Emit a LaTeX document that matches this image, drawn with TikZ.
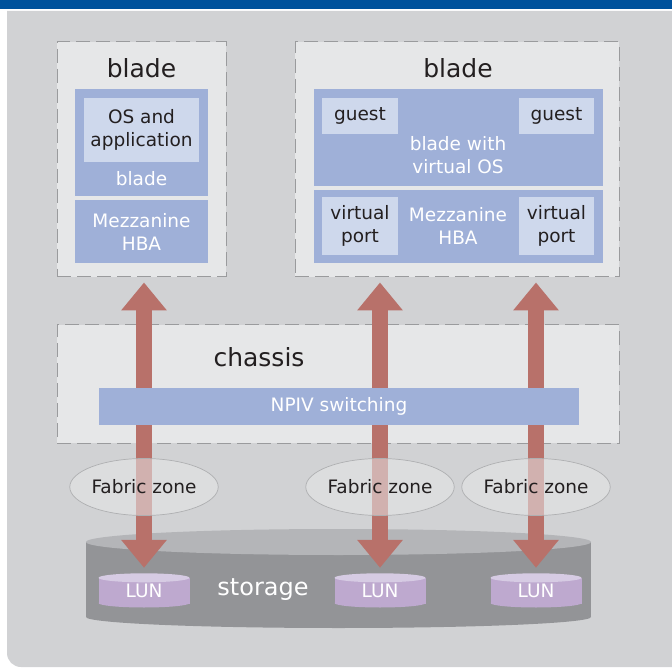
\documentclass[tikz,border=0pt]{standalone}
\usepackage{fontspec}
\setmainfont{DejaVu Sans}
\usetikzlibrary{arrows.meta, positioning, shapes.geometric}
\definecolor{barblue}{HTML}{00529C}
\definecolor{panelgray}{HTML}{D1D2D4}
\definecolor{boxgray}{HTML}{E6E7E8}
\definecolor{dashgray}{HTML}{9A9B9D}
\definecolor{midblue}{HTML}{9FB0D8}
\definecolor{paleblue}{HTML}{CED8EC}
\definecolor{inkdark}{HTML}{231F20}
\definecolor{arrowred}{HTML}{B8716A}
\definecolor{storeside}{HTML}{939497}
\definecolor{storetop}{HTML}{B4B5B8}
\definecolor{lunside}{HTML}{BEA9CF}
\definecolor{luntop}{HTML}{D6CBE3}

\begin{document}
\begin{tikzpicture}[x=1pt, y=-1pt]
\tikzstyle{dashbox} = [rectangle, inner sep=0pt, fill=boxgray, draw=dashgray, line width=1pt, dash pattern=on 14pt off 6pt]
\tikzstyle{bluebox} = [rectangle, inner sep=0pt, fill=midblue, text=white, align=center, font=\fontsize{18.5}{23}\selectfont]
\tikzstyle{palebox} = [rectangle, inner sep=0pt, fill=paleblue, text=inkdark, align=center, font=\fontsize{18.5}{23}\selectfont]
\tikzstyle{whitetext} = [text=white, align=center, font=\fontsize{18.5}{23}\selectfont]
\tikzstyle{titletext} = [text=inkdark, font=\fontsize{25}{28}\selectfont]
\tikzstyle{zone} = [ellipse, minimum width=141pt, minimum height=57pt, inner sep=0pt, fill=boxgray, fill opacity=0.55, text opacity=1, draw=dashgray!80, line width=0.7pt, text=inkdark, font=\fontsize{18.5}{22}\selectfont]
\tikzstyle{lunbox} = [rectangle, minimum width=91pt, minimum height=26pt, inner sep=0pt, fill=lunside, text=white, font=\fontsize{18.5}{20}\selectfont]
\tikzstyle{fatarrow} = [draw=arrowred, line width=16pt, {Triangle[width=44pt, length=28pt, fill=arrowred]}-{Triangle[width=44pt, length=28pt, fill=arrowred]}]

\useasboundingbox (0,0) rectangle (672,668);

% frame
\fill[barblue] (0,0) rectangle (672,9);
\fill[panelgray] (7,11) -- (672,11) -- (672,667) [rounded corners=14pt] -- (7,667) [sharp corners] -- (7,11) -- cycle;

% left blade
\node (bladeL) [dashbox, minimum width=169pt, minimum height=235pt] at (141.5,159.5) {};
\node (titleL) [titletext] at (141.5,68) {blade};
\node (hostL) [bluebox, minimum width=133pt, minimum height=107pt] at (141.5,142.5) {};
\node (osapp) [palebox, minimum width=115pt, minimum height=64pt] at (141.5,130) {OS and\\application};
\node (hostLtext) [whitetext] at (141.5,179) {blade};
\node (mezzL) [bluebox, minimum width=133pt, minimum height=63pt] at (141.5,231.5) {Mezzanine\\HBA};

% right blade
\node (bladeR) [dashbox, minimum width=324pt, minimum height=235pt] at (457,159.5) {};
\node (titleR) [titletext] at (458,68) {blade};
\node (hostR) [bluebox, minimum width=289pt, minimum height=97pt] at (458.5,137.5) {};
\node (guestA) [palebox, minimum width=76pt, minimum height=36pt] at (360,116) {guest};
\node (guestB) [palebox, minimum width=75pt, minimum height=36pt] at (556.5,116) {guest};
\node (hostRtext) [whitetext] at (458,155) {blade with\\virtual OS};
\node (mezzR) [bluebox, minimum width=289pt, minimum height=73pt] at (458.5,226.5) {};
\node (vportA) [palebox, minimum width=76pt, minimum height=58pt] at (360,226) {virtual\\port};
\node (vportB) [palebox, minimum width=75pt, minimum height=58pt] at (556.5,226) {virtual\\port};
\node (mezzRtext) [whitetext] at (458,226) {Mezzanine\\HBA};

% chassis
\node (chassis) [dashbox, minimum width=562pt, minimum height=118pt] at (338,384) {};
\node (chassistext) [titletext] at (259,357) {chassis};

% storage
\fill[storeside] (86,542) rectangle (591,617);
\fill[storeside] (338.5,617) ellipse (252.5pt and 11pt);
\fill[storetop] (338.5,542) ellipse (252.5pt and 13pt);
\node (storage) [text=white, font=\fontsize{24}{28}\selectfont] at (263,590) {storage};

\foreach \name/\xpos in {lunA/144, lunB/380, lunC/536} {
  \fill[lunside] (\xpos,603) ellipse (45.5pt and 4.5pt);
  \node (\name) [lunbox] at (\xpos,591) {LUN};
  \fill[luntop] (\name.north) ellipse (45.5pt and 4.5pt);
}

% links
\draw[fatarrow, shorten <=10pt, shorten >=5pt] (lunA.north) -- (lunA.north |- bladeL.south);
\draw[fatarrow, shorten <=10pt, shorten >=5pt] (lunB.north) -- (lunB.north |- bladeR.south);
\draw[fatarrow, shorten <=10pt, shorten >=5pt] (lunC.north) -- (lunC.north |- bladeR.south);

\node (npiv) [bluebox, minimum width=480pt, minimum height=37pt] at (339,406.5) {NPIV switching};

\node (zoneA) [zone] at (144,487) {Fabric zone};
\node (zoneB) [zone] at (380,487) {Fabric zone};
\node (zoneC) [zone] at (536,487) {Fabric zone};

\end{tikzpicture}
\end{document}
